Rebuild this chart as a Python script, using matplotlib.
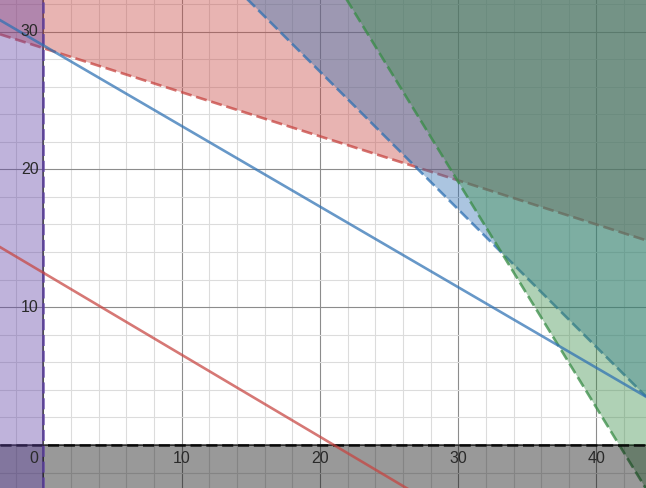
import numpy as np
import matplotlib
matplotlib.use("Agg")
import matplotlib.pyplot as plt

# 视图范围
x_range = [-3.13, 43.58]
y_range = [-3.12, 32.29]

# 实线 y = b + k*x
solid_names = ["red", "blue"]
solid_b = [12.5, 29.0]
solid_k = [-0.595, -0.585]

# 区域边界 y >= b + k*x （虚线）
region_names = ["red", "blue", "green"]
region_b = [28.8, 47.1, 68.3]
region_k = [-0.32, -1.0, -1.64]

# 坐标轴刻度标签
x_ticks = [10, 20, 30, 40]
y_ticks = [10, 20, 30]

colors = {"red": "#c74440", "blue": "#2d70b3", "green": "#388c46",
          "purple": "#6042a6", "black": "#000000"}
alpha = 0.4
lw = 1.9
dash = [4.2, 1.8]

fig = plt.figure(figsize=(6.46, 4.88), dpi=100)
ax = fig.add_axes([0, 0, 1, 1])
ax.set_xlim(x_range)
ax.set_ylim(y_range)
ax.axis("off")

# 网格
for v in np.arange(-2, 44, 2):
    c = "#8c8c8c" if v % 10 == 0 else "#dcdcdc"
    ax.axvline(v, color=c, lw=0.8, zorder=0)
for v in np.arange(-2, 33, 2):
    c = "#8c8c8c" if v % 10 == 0 else "#dcdcdc"
    ax.axhline(v, color=c, lw=0.8, zorder=0)
ax.axvline(0, color="#444444", lw=1.2, zorder=0.5)
ax.axhline(0, color="#444444", lw=1.2, zorder=0.5)

xs = np.linspace(x_range[0], x_range[1], 800)
z = 1
for name, b, k in zip(region_names, region_b, region_k):
    ys = np.clip(b + k * xs, y_range[0], y_range[1])
    ax.plot(xs, b + k * xs, color=colors[name], lw=lw, dashes=dash, alpha=0.75, zorder=z)
    ax.fill_between(xs, ys, y_range[1], color=colors[name], alpha=alpha, lw=0, zorder=z + 0.5)
    z += 1

# y <= 0
ax.axhline(0, color=colors["black"], lw=lw, dashes=dash, alpha=0.8, zorder=z)
ax.axhspan(y_range[0], 0, color=colors["black"], alpha=alpha, lw=0, zorder=z + 0.5)
z += 1
# x <= 0
ax.axvline(0, color=colors["purple"], lw=lw, dashes=dash, alpha=0.8, zorder=z)
ax.axvspan(x_range[0], 0, color=colors["purple"], alpha=alpha, lw=0, zorder=z + 0.5)
z += 1

for name, b, k in zip(solid_names, solid_b, solid_k):
    ax.plot(xs, b + k * xs, color=colors[name], lw=lw, alpha=0.72, zorder=z)

font = dict(family="Liberation Sans", fontsize=11.5, color="#2a2a2a", zorder=z + 1)
for t in x_ticks:
    ax.text(t, -0.45, str(t), ha="center", va="top", **font)
for t in y_ticks:
    ax.text(-0.35, t, str(t), ha="right", va="center", **font)
ax.text(-0.35, -0.45, "0", ha="right", va="top", **font)

fig.savefig("out.png", dpi=100)
